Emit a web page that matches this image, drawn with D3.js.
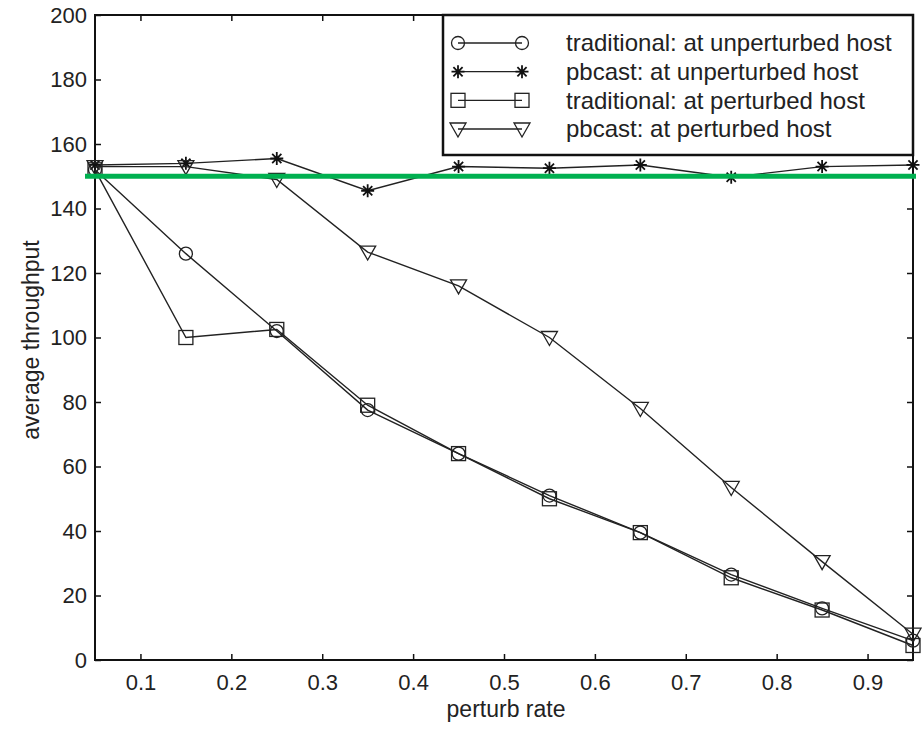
<!DOCTYPE html>
<html>
<head>
<meta charset="utf-8">
<script src="https://cdn.jsdelivr.net/npm/d3@7"></script>
<style>
  body { margin: 0; background: #fff; }
  text { font-family: "Liberation Sans", Arial, sans-serif; fill: #222; }
</style>
</head>
<body>
<div id="chart"></div>
<script>
const perturbRates = [0.05, 0.15, 0.25, 0.35, 0.45, 0.55, 0.65, 0.75, 0.85, 0.95];
const tradUnperturbed = [152, 126, 102, 77.5, 64, 51, 39.5, 26.5, 16, 6];
const pbcastUnperturbed = [153.5, 154, 155.5, 145.5, 153, 152.5, 153.5, 149.7, 153, 153.5];
const tradPerturbed = [152, 100, 102.5, 79, 64, 50, 39.5, 25.5, 15.5, 4.5];
const pbcastPerturbed = [153, 153, 149, 126.5, 116, 100, 78, 53.5, 30.5, 8];
const xTicks = [0.1, 0.2, 0.3, 0.4, 0.5, 0.6, 0.7, 0.8, 0.9];
const yTicks = [0, 20, 40, 60, 80, 100, 120, 140, 160, 180, 200];
const refLevel = 150;

const series = [
  { label: "traditional: at unperturbed host", values: tradUnperturbed, marker: "circle" },
  { label: "pbcast: at unperturbed host", values: pbcastUnperturbed, marker: "star" },
  { label: "traditional: at perturbed host", values: tradPerturbed, marker: "square" },
  { label: "pbcast: at perturbed host", values: pbcastPerturbed, marker: "triangle" }
];

const width = 922, height = 729;
const margin = { top: 15, right: 9, bottom: 69, left: 95 };
const innerW = width - margin.left - margin.right;
const innerH = height - margin.top - margin.bottom;

const svg = d3.select("#chart").append("svg")
  .attr("width", width)
  .attr("height", height);

const g = svg.append("g")
  .attr("transform", `translate(${margin.left},${margin.top})`);

const x = d3.scaleLinear().domain([0.05, 0.95]).range([0, innerW]);
const y = d3.scaleLinear().domain([0, 200]).range([innerH, 0]);

// axes with inward ticks (matlab style)
const tickLen = 6;
const xAxis = g.append("g")
  .attr("transform", `translate(0,${innerH})`)
  .call(d3.axisBottom(x).tickValues(xTicks).tickSizeInner(-tickLen).tickSizeOuter(0).tickPadding(14).tickFormat(d3.format(".1f")));
const yAxis = g.append("g")
  .call(d3.axisLeft(y).tickValues(yTicks).tickSizeInner(-tickLen).tickSizeOuter(0).tickPadding(8).tickFormat(d3.format("d")));
const xTop = g.append("g")
  .call(d3.axisTop(x).tickValues(xTicks).tickSizeInner(-tickLen).tickSizeOuter(0).tickFormat(""));
const yRight = g.append("g")
  .attr("transform", `translate(${innerW},0)`)
  .call(d3.axisRight(y).tickValues(yTicks).tickSizeInner(-tickLen).tickSizeOuter(0).tickFormat(""));

[xAxis, yAxis, xTop, yRight].forEach(a => {
  a.select(".domain").remove();
  a.selectAll(".tick line").attr("stroke", "#111").attr("stroke-width", 1.5);
  a.selectAll(".tick text").attr("font-size", "22px").attr("fill", "#2a2a2a");
});

// box
g.append("rect")
  .attr("width", innerW)
  .attr("height", innerH)
  .attr("fill", "none")
  .attr("stroke", "#111")
  .attr("stroke-width", 2);

// marker drawing
function drawMarker(sel, type) {
  if (type === "circle") {
    sel.append("circle").attr("r", 6.5)
      .attr("fill", "none").attr("stroke", "#222").attr("stroke-width", 1.3);
  } else if (type === "square") {
    sel.append("rect").attr("x", -7).attr("y", -7).attr("width", 14).attr("height", 14)
      .attr("fill", "none").attr("stroke", "#222").attr("stroke-width", 1.3);
  } else if (type === "triangle") {
    sel.append("path").attr("d", "M-8,-6L8,-6L0,8Z")
      .attr("fill", "none").attr("stroke", "#222").attr("stroke-width", 1.3);
  } else if (type === "star") {
    const r = 6.5;
    const d = [0, 45, 90, 135].map(a => {
      const t = a * Math.PI / 180;
      return `M${-r * Math.cos(t)},${-r * Math.sin(t)}L${r * Math.cos(t)},${r * Math.sin(t)}`;
    }).join("");
    sel.append("path").attr("d", d)
      .attr("fill", "none").attr("stroke", "#111").attr("stroke-width", 1.8);
  }
}

const line = d3.line()
  .x((d, i) => x(perturbRates[i]))
  .y(d => y(d));

series.forEach(s => {
  g.append("path")
    .datum(s.values)
    .attr("d", line)
    .attr("fill", "none")
    .attr("stroke", "#222")
    .attr("stroke-width", 1.4);

  g.selectAll(null)
    .data(s.values)
    .enter()
    .append("g")
    .attr("transform", (d, i) => `translate(${x(perturbRates[i])},${y(d)})`)
    .each(function () { drawMarker(d3.select(this), s.marker); });
});

// legend
const legend = g.append("g").attr("transform", `translate(${348},0)`);
legend.append("rect")
  .attr("width", innerW - 348)
  .attr("height", 140)
  .attr("fill", "#fff")
  .attr("stroke", "#111")
  .attr("stroke-width", 2.5);

const rowY = d3.scaleLinear().domain([0, 3]).range([28, 114]);
series.forEach((s, i) => {
  const row = legend.append("g").attr("transform", `translate(0,${rowY(i)})`);
  row.append("line")
    .attr("x1", 15).attr("x2", 79)
    .attr("stroke", "#222").attr("stroke-width", 1.4);
  [15, 79].forEach(px => {
    drawMarker(row.append("g").attr("transform", `translate(${px},0)`), s.marker);
  });
  row.append("text")
    .attr("x", 123)
    .attr("dy", "0.35em")
    .attr("font-size", "24px")
    .text(s.label);
});

// reference line at 150
g.append("line")
  .attr("x1", -10)
  .attr("x2", innerW + 3)
  .attr("y1", y(refLevel))
  .attr("y2", y(refLevel))
  .attr("stroke", "#00b050")
  .attr("stroke-width", 5);

// axis labels
svg.append("text")
  .attr("x", 506)
  .attr("y", 717)
  .attr("text-anchor", "middle")
  .attr("font-size", "23px")
  .text("perturb rate");

svg.append("text")
  .attr("transform", `translate(39,340) rotate(-90)`)
  .attr("text-anchor", "middle")
  .attr("font-size", "23px")
  .text("average throughput");
</script>
</body>
</html>
